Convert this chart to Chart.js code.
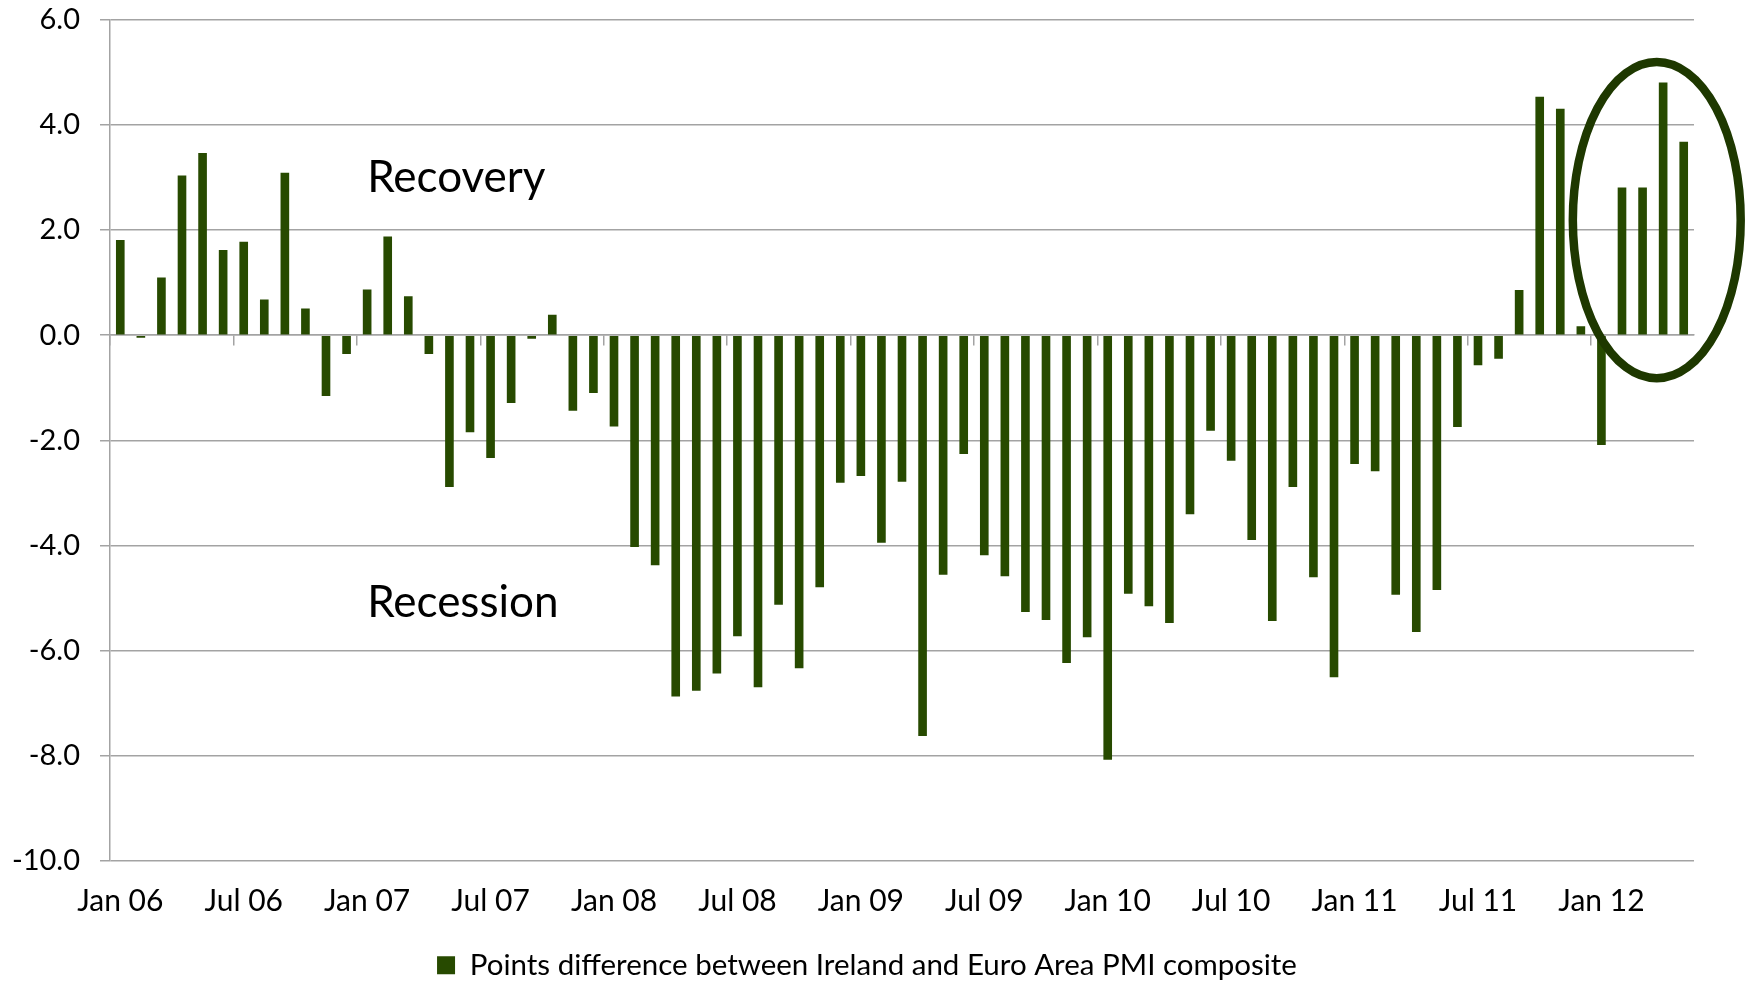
<!DOCTYPE html>
<html>
<head>
<meta charset="utf-8">
<title>Ireland vs Euro Area PMI composite</title>
<script src="https://cdn.jsdelivr.net/npm/chart.js@4.4.1/dist/chart.umd.min.js"></script>
<style>
    html, body { margin: 0; padding: 0; background: #ffffff; }
    #wrap { width: 1748px; height: 981px; }
</style>
</head>
<body>
<div id="wrap"><canvas id="pmiChart"></canvas></div>
<script>
(function (window) {
    'use strict';

    // months shown: Jan 06 .. May 12
    var monthNames = ['Jan', 'Feb', 'Mar', 'Apr', 'May', 'Jun', 'Jul', 'Aug', 'Sep', 'Oct', 'Nov', 'Dec'];
    var firstYear = 2006;
    var monthCount = 77;

    // points difference, Ireland minus Euro Area
    var pmiGap = [
        1.81, -0.05, 1.10, 3.04, 3.47, 1.62, 1.78, 0.68, 3.09, 0.51, -1.16, -0.36,
        0.87, 1.88, 0.74, -0.36, -2.89, -1.85, -2.34, -1.29, -0.07, 0.39, -1.44, -1.10,
        -1.74, -4.03, -4.38, -6.88, -6.77, -6.44, -5.73, -6.70, -5.13, -6.34, -4.80, -2.81,
        -2.68, -3.95, -2.79, -7.63, -4.56, -2.26, -4.19, -4.59, -5.27, -5.42, -6.24, -5.75,
        -8.08, -4.92, -5.16, -5.48, -3.41, -1.82, -2.39, -3.90, -5.44, -2.89, -4.61, -6.51,
        -2.45, -2.59, -4.94, -5.65, -4.85, -1.75, -0.57, -0.45, 0.86, 4.54, 4.31, 0.17,
        -2.09, 2.81, 2.81, 4.81, 3.68
    ];

    var yTicks = [-10, -8, -6, -4, -2, 0, 2, 4, 6];
    var labelEvery = 6;

    var seriesLabel = 'Points difference between Ireland and Euro Area PMI composite';

    var barColor = '#274a00';
    var gridColor = '#a3a3a3';
    var fontFamily = 'Lato, "Open Sans", sans-serif';

    var categories = [];
    for (var i = 0; i < monthCount; i++) {
        var yy = (firstYear + Math.floor(i / 12)) % 100;
        categories.push(monthNames[i % 12] + ' ' + (yy < 10 ? '0' + yy : '' + yy));
    }

    // text notes and the ring, placed in data units
    var notes = [
        { text: 'Recovery', x: 12.0, y: 2.73 },
        { text: 'Recession', x: 12.0, y: -5.36 }
    ];
    var ring = { x: 74.69, y: 2.19, rx: 4.08, ry: 3.01 };

    function dropPadding(scale) {
        scale.paddingTop = 0;
        scale.paddingBottom = 0;
        scale.paddingLeft = 0;
        scale.paddingRight = 0;
    }

    var notesPlugin = {
        id: 'phaseNotes',
        afterDraw: function (chart) {
            var ctx = chart.ctx;
            var xs = chart.scales.x;
            var ys = chart.scales.y;
            var step = xs.getPixelForValue(1) - xs.getPixelForValue(0);

            ctx.save();
            ctx.fillStyle = '#000000';
            ctx.font = '44px ' + fontFamily;
            ctx.textAlign = 'left';
            ctx.textBaseline = 'alphabetic';
            notes.forEach(function (note) {
                ctx.fillText(note.text, xs.getPixelForValue(note.x), ys.getPixelForValue(note.y));
            });

            var cx = xs.getPixelForValue(ring.x);
            var cy = ys.getPixelForValue(ring.y);
            var ry = ys.getPixelForValue(0) - ys.getPixelForValue(ring.ry);
            ctx.beginPath();
            ctx.ellipse(cx, cy, ring.rx * step, ry, 0, 0, Math.PI * 2);
            ctx.lineWidth = 8.5;
            ctx.strokeStyle = '#1e3800';
            ctx.stroke();
            ctx.restore();
        }
    };

    new Chart(document.getElementById('pmiChart'), {
        type: 'bar',
        data: {
            labels: categories,
            datasets: [{
                label: seriesLabel,
                data: pmiGap,
                backgroundColor: barColor,
                borderWidth: 0,
                barPercentage: 0.42,
                categoryPercentage: 1.0,
                xAxisID: 'x',
                yAxisID: 'y'
            }]
        },
        options: {
            responsive: true,
            maintainAspectRatio: false,
            animation: false,
            layout: {
                padding: { left: 0, right: 14, top: 20, bottom: -9 }
            },
            plugins: {
                legend: {
                    position: 'bottom',
                    labels: {
                        boxWidth: 18,
                        boxHeight: 18,
                        color: '#000000',
                        padding: 2,
                        font: { family: fontFamily, size: 29.5 }
                    }
                },
                tooltip: { enabled: false }
            },
            scales: {
                x: {
                    type: 'category',
                    position: 'bottom',
                    offset: true,
                    grid: { display: false, drawTicks: false },
                    border: { display: false },
                    ticks: {
                        autoSkip: false,
                        maxRotation: 0,
                        minRotation: 0,
                        color: '#000000',
                        padding: 23,
                        font: { family: fontFamily, size: 30 },
                        callback: function (value, index) {
                            return index % labelEvery === 0 ? this.getLabelForValue(value) : '';
                        }
                    },
                    afterFit: function (scale) {
                        dropPadding(scale);
                        scale.height = 88;
                    }
                },
                xZero: {
                    type: 'category',
                    position: { y: 0 },
                    offset: true,
                    grid: {
                        offset: true,
                        drawOnChartArea: false,
                        drawTicks: true,
                        tickLength: 10,
                        lineWidth: 1.5,
                        color: function (context) {
                            return context.index % labelEvery === 0 ? gridColor : 'rgba(0,0,0,0)';
                        }
                    },
                    border: { display: true, color: gridColor, width: 1.5 },
                    ticks: { display: false },
                    afterFit: dropPadding
                },
                y: {
                    min: -10,
                    max: 6,
                    afterBuildTicks: function (scale) {
                        scale.ticks = yTicks.map(function (v) { return { value: v }; });
                    },
                    grid: {
                        color: gridColor,
                        lineWidth: 1.5,
                        drawTicks: true,
                        tickLength: 10
                    },
                    border: { display: true, color: gridColor, width: 1.5 },
                    ticks: {
                        color: '#000000',
                        padding: 20,
                        font: { family: fontFamily, size: 29 },
                        callback: function (value) {
                            return Number(value).toFixed(1);
                        }
                    },
                    afterFit: function (scale) {
                        dropPadding(scale);
                        scale.width = 110;
                    }
                },
                // empty strip on the right so the ring has room
                yGutter: {
                    type: 'linear',
                    position: 'right',
                    display: true,
                    grid: { display: false, drawTicks: false },
                    border: { display: false },
                    ticks: { display: false },
                    afterFit: function (scale) {
                        dropPadding(scale);
                        scale.width = 40;
                    }
                }
            }
        },
        plugins: [notesPlugin]
    });
})(window);
</script>
</body>
</html>
